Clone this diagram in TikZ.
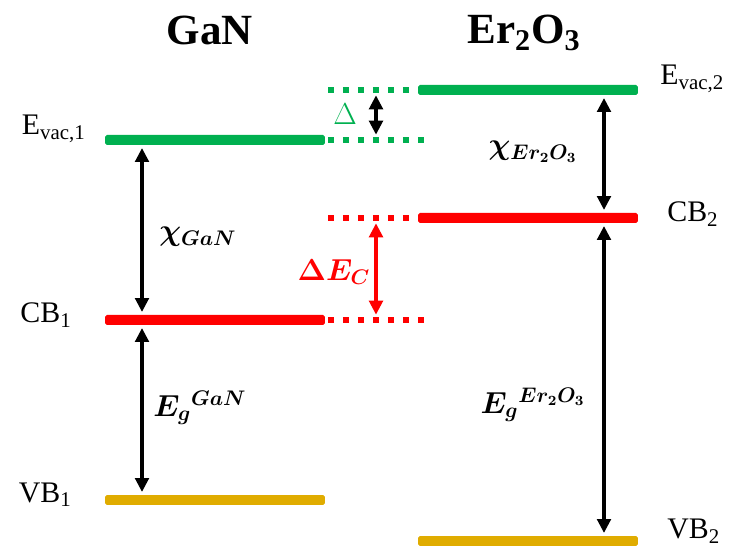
\documentclass[tikz,border=0pt]{standalone}
\usepackage{fontspec}
\setmainfont{Liberation Serif}
\usepackage{amsmath, amssymb}
\usetikzlibrary{positioning, arrows.meta}
\definecolor{vacgreen}{RGB}{0,176,80}
\definecolor{cbred}{RGB}{255,0,0}
\definecolor{vbgold}{RGB}{224,172,0}
\tikzset{
  bar/.style={
    rectangle, rounded corners=1pt,
    minimum width=4.4cm, minimum height=0.2cm,
    inner sep=0pt
  },
  dotln/.style={line width=0.12cm, dash pattern=on 0.12cm off 0.18cm},
  dbl/.style={
    {Triangle[length=0.28cm, width=0.27cm]}-{Triangle[length=0.28cm, width=0.27cm]},
    line width=0.075cm
  },
  ttl/.style={font=\fontsize{24.5}{28}\selectfont\bfseries},
  lvl/.style={font=\fontsize{17}{20}\selectfont, inner sep=0pt},
  sym/.style={font=\fontsize{17}{20}\selectfont\boldmath, inner sep=0pt},
}

\begin{document}
\begin{tikzpicture}[x=0.02cm, y=-0.02cm]
        \useasboundingbox (0,0) rectangle (734,550);
        \node[ttl] (tgan) at (210,30) {GaN};
        \node[ttl] (ter)  at (524,33) {Er\textsubscript{2}O\textsubscript{3}};
        % GaN levels
        \node[bar, fill=vacgreen] (vac1) at (215,140) {};
        \node[bar, fill=cbred]    (cb1)  at (215,320) {};
        \node[bar, fill=vbgold]   (vb1)  at (215,500) {};
        % Er2O3 levels
        \node[bar, fill=vacgreen] (vac2) at (528,90) {};
        \node[bar, fill=cbred]    (cb2)  at (528,218) {};
        \node[bar, fill=vbgold]   (vb2)  at (528,541) {};
        \node[lvl, anchor=base east] (lvac1) at (86,135) {E\textsubscript{vac,1}};
        \node[lvl, anchor=base east] (lcb1)  at (72,323) {CB\textsubscript{1}};
        \node[lvl, anchor=base east] (lvb1)  at (72,502) {VB\textsubscript{1}};
        \node[lvl, anchor=base west] (lvac2) at (660,85) {E\textsubscript{vac,2}};
        \node[lvl, anchor=base west] (lcb2)  at (667,222) {CB\textsubscript{2}};
        \node[lvl, anchor=base west] (lvb2)  at (667,539) {VB\textsubscript{2}};
        % dotted extensions
        \coordinate (dl) at (328,0);
        \coordinate (dr) at (425,0);
        \draw[dotln, vacgreen] (dl |- vac2) -- (vac2.west);
        \draw[dotln, vacgreen] (dl |- vac1) -- (dr |- vac1);
        \draw[dotln, cbred]    (dl |- cb2)  -- (cb2.west);
        \draw[dotln, cbred]    (dl |- cb1)  -- (dr |- cb1);
        % arrows
        \coordinate (ax1) at (142,0);
        \coordinate (ax2) at (604,0);
        \coordinate (ax3) at (376,0);
        \draw[dbl, shorten <=1.5pt, shorten >=1.5pt] (ax1 |- vac1.south) -- (ax1 |- cb1.north);
        \draw[dbl, shorten <=1.5pt, shorten >=1.5pt] (ax1 |- cb1.south)  -- (ax1 |- vb1.north);
        \draw[dbl, shorten <=1.5pt, shorten >=1.5pt] (ax2 |- vac2.south) -- (ax2 |- cb2.north);
        \draw[dbl, shorten <=1.5pt, shorten >=1.5pt] (ax2 |- cb2.south)  -- (ax2 |- vb2.north);
        \draw[dbl, shorten <=3pt, shorten >=3pt] (ax3 |- vac2) -- (ax3 |- vac1);
        \draw[dbl, cbred, shorten <=3pt, shorten >=3pt] (ax3 |- cb2) -- (ax3 |- cb1);
        % symbols
        \node[sym] (chi1) at (198,237) {$\chi_{GaN}$};
        \node[sym] (eg1)  at (200,408) {$E_g{}^{GaN}$};
        \node[sym] (chi2) at (533,152) {$\chi_{Er_2O_3}$};
        \node[sym] (eg2)  at (533,405) {$E_g{}^{Er_2O_3}$};
        \node[sym, text=vacgreen, font=\fontsize{17}{20}\selectfont] (dvac) at (345,114) {$\Delta$};
        \node[sym, text=cbred]    (dec)  at (334,272) {$\Delta E_C$};
\end{tikzpicture}
\end{document}
